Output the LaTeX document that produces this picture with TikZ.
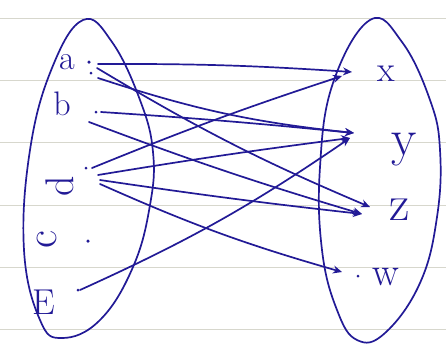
\documentclass[tikz,border=0pt]{standalone}
\usetikzlibrary{arrows.meta}
\definecolor{ink}{RGB}{34,26,150}
\definecolor{rule}{RGB}{215,215,205}
\newcommand{\fs}[1]{\fontsize{#1}{#1}\selectfont}
\begin{document}
\begin{tikzpicture}[x=1pt,y=-1pt,
  inkline/.style={draw=ink,line width=1.7pt,line cap=round},
  arr/.style={inkline,-{Stealth[length=9pt,width=8pt]}},
  lbl/.style={text=ink,inner sep=0pt},
  pt/.style={circle,fill=ink,inner sep=0pt,minimum size=3.5pt},
  paper/.style={draw=rule,line width=0.8pt}]
\useasboundingbox (0,0) rectangle (446,349);
\fill[white] (0,0) rectangle (446,349);
% ruled paper
\foreach \yy in {18,80,142,205,267,329}
  \draw[paper] (0,\yy) -- (446,\yy);
% sets
\draw[inkline] plot[smooth cycle,tension=0.7] coordinates
  {(83,20) (112,42) (140,100) (153,152) (150,205) (133,267) (100,320) (62,338) (40,320) (24,250) (30,150) (52,68)};
\draw[inkline] plot[smooth cycle,tension=0.7] coordinates
  {(370,20) (402,42) (430,100) (440,150) (437,217) (420,283) (385,333) (357,340) (337,310) (322,250) (320,167) (333,83)};
% left labels and points
\node[lbl,font=\fs{34}] (la) at (67,62) {a};
\node[pt] (pa) at (89,62) {};
\node[pt,minimum size=3pt] (pa2) at (91,73) {};
\node[lbl,font=\fs{34}] (lb) at (62,104) {b};
\node[pt,minimum size=3pt] (pb) at (96,112) {};
\node[lbl,font=\fs{40},rotate=90] (ld) at (60,186) {d};
\node[pt,minimum size=3pt] (pd) at (86,168) {};
\node[lbl,font=\fs{44},rotate=90] (lc) at (47,240) {c};
\node[pt] (pc) at (88,241) {};
\node[lbl,font=\fs{36}] (le) at (44,302) {E};
\node[pt,minimum size=3pt] (pe) at (78,290) {};
% right labels and points
\node[lbl,font=\fs{36}] (lx) at (386,74) {x};
\node[lbl,font=\fs{52}] (ly) at (404,150) {y};
\node[lbl,font=\fs{50}] (lz) at (400,210) {z};
\node[pt,minimum size=3pt] (pw) at (358,276) {};
\node[lbl,font=\fs{40}] (lw) at (386,277) {w};
% arrow start and end coordinates
\coordinate (aS1) at (98,64);
\coordinate (aS2) at (97,68);
\coordinate (aS3) at (98,78);
\coordinate (bS1) at (101,112);
\coordinate (bS2) at (89,122);
\coordinate (dS1) at (92,168);
\coordinate (dS2) at (98,175);
\coordinate (dS3) at (100,180);
\coordinate (dS4) at (100,184);
\coordinate (eS) at (80,290);
\coordinate (xT) at (352,72);
\coordinate (xT2) at (342,76);
\coordinate (yT) at (354,133);
\coordinate (yT2) at (350,138);
\coordinate (zT) at (370,207);
\coordinate (zT2) at (362,214);
\coordinate (wT) at (342,272);
% arrows
\draw[arr] (aS1) to[bend left=2] (xT);
\draw[arr] (aS2) to[bend right=4] (zT);
\draw[arr] (aS3) to[bend right=6] (yT);
\draw[arr] (bS1) to[bend left=1] (yT);
\draw[arr] (bS2) to[bend right=2] (zT2);
\draw[arr] (dS1) to[bend left=2] (xT2);
\draw[arr] (dS2) to[bend left=1] (yT2);
\draw[arr] (dS3) to[bend right=1] (zT2);
\draw[arr] (dS4) to[bend right=4] (wT);
\draw[arr] (eS) to[bend right=5] (yT2);
\end{tikzpicture}
\end{document}
